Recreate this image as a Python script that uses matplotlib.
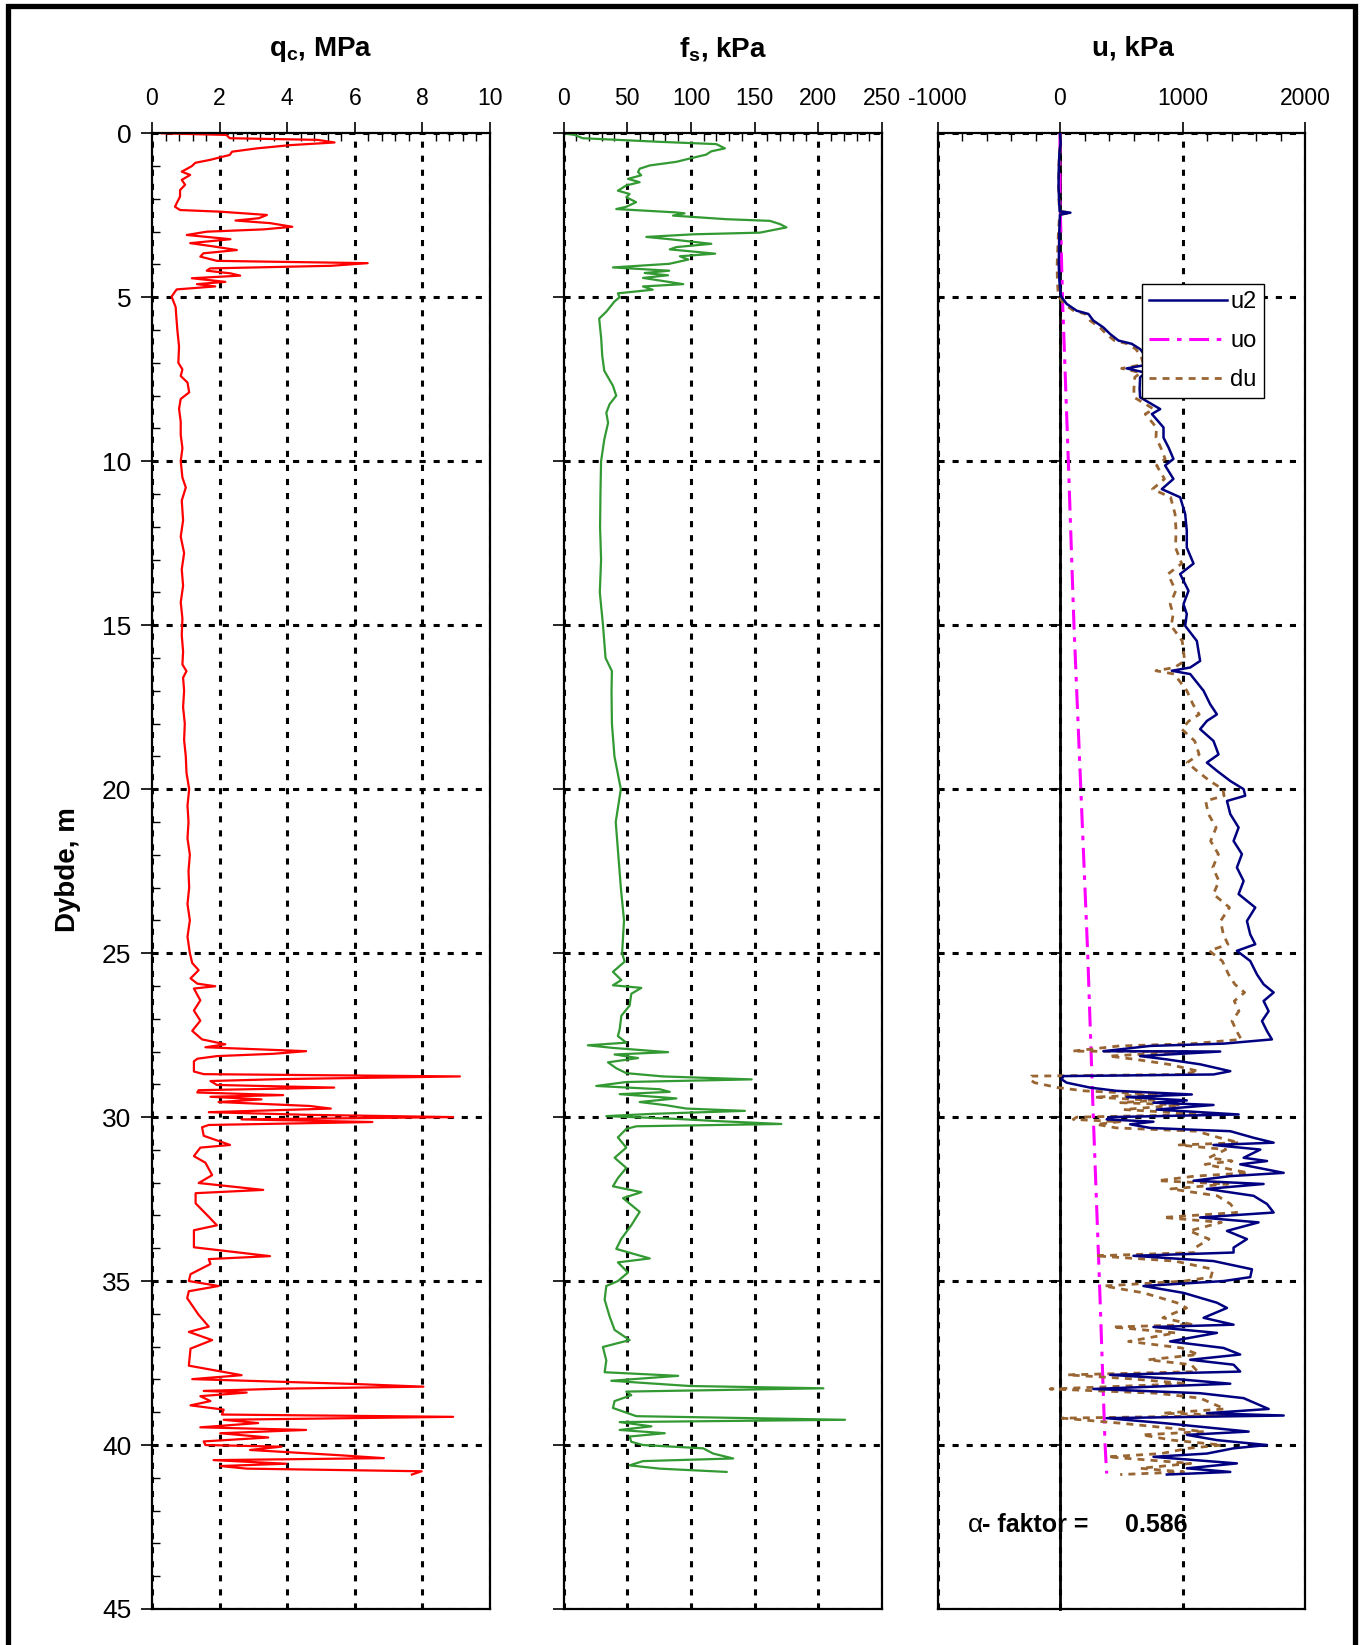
import numpy as np
import matplotlib
matplotlib.use('Agg')
import matplotlib.pyplot as plt
from matplotlib.ticker import MultipleLocator
from matplotlib.patches import Rectangle

plt.rcParams['font.family'] = ['Liberation Sans', 'DejaVu Sans']
plt.rcParams['mathtext.fontset'] = 'custom'
plt.rcParams['mathtext.rm'] = 'Liberation Sans'
plt.rcParams['mathtext.bf'] = 'Liberation Sans:bold'
plt.rcParams['axes.unicode_minus'] = False

# ---- data (read off the CPT log) ----
# cone resistance qc [MPa]
qc_depth = [0.00, 0.05, 0.15, 0.20, 0.28, 0.36, 0.46, 0.56, 0.66, 0.81, 0.90, 1.00, 1.17, 1.27, 1.42,
            1.57, 1.73, 1.93, 2.13, 2.24, 2.34, 2.39, 2.49, 2.59, 2.66, 2.74, 2.85, 2.93, 3.00, 3.10,
            3.23, 3.35, 3.45, 3.56, 3.66, 3.76, 3.89, 3.96, 4.04, 4.12, 4.19, 4.27, 4.34, 4.42, 4.53,
            4.60, 4.67, 4.76, 4.83, 4.98, 5.3, 5.6, 6.0, 6.5, 7.0, 7.2, 7.4, 7.6, 7.9, 8.1, 8.4, 8.8,
            9.2, 9.6, 10.0, 10.5, 10.8, 11.2, 11.8, 12.3, 12.8, 13.3, 13.8, 14.3, 14.8, 15.3, 15.8,
            16.2, 16.4, 16.6, 17.0, 17.5, 18.0, 18.5, 19.0, 19.5, 20.0, 20.5, 21.0, 21.5, 22.0, 22.5,
            23.0, 23.5, 24.0, 24.5, 25.0, 25.3, 25.52, 25.77, 25.93, 26.01, 26.08, 26.44, 26.75,
            27.06, 27.37, 27.63, 27.78, 27.87, 27.99, 28.07, 28.14, 28.22, 28.30, 28.61, 28.69,
            28.76, 28.84, 28.90, 29.02, 29.10, 29.18, 29.25, 29.33, 29.38, 29.46, 29.54, 29.66,
            29.74, 29.85, 29.93, 30.00, 30.07, 30.15, 30.24, 30.31, 30.57, 30.85, 30.93, 31.19,
            31.39, 31.77, 32.01, 32.22, 32.32, 32.63, 33.04, 33.30, 33.45, 33.97, 34.24, 34.33,
            34.48, 34.79, 35.00, 35.15, 35.31, 35.52, 36.03, 36.39, 36.55, 36.80, 37.06, 37.58,
            37.87, 37.99, 38.14, 38.22, 38.28, 38.35, 38.40, 38.51, 38.66, 38.79, 38.92, 39.07,
            39.14, 39.23, 39.33, 39.46, 39.54, 39.64, 39.77, 39.89, 40.00, 40.05, 40.15, 40.31,
            40.40, 40.46, 40.57, 40.64, 40.72, 40.80, 40.90]
qc_val = [0.29, 2.2, 2.3, 4.9, 5.4, 4.1, 3.1, 2.37, 2.3, 1.72, 1.28, 1.18, 0.88, 1.13, 0.88,
          0.98, 0.83, 0.83, 0.73, 0.68, 0.83, 2.02, 3.4, 3.16, 2.47, 3.5, 4.15, 3.3, 1.62, 1.03,
          2.32, 1.13, 1.82, 2.51, 1.52, 1.43, 1.92, 6.38, 5.3, 1.72, 1.62, 2.32, 2.61, 1.18, 2.17,
          1.33, 1.87, 0.73, 0.68, 0.58, 0.70, 0.72, 0.75, 0.80, 0.78, 0.90, 0.85, 1.05, 1.10, 0.85,
          0.80, 0.85, 0.85, 0.90, 0.85, 0.90, 1.00, 0.88, 0.92, 0.85, 0.95, 0.88, 0.92, 0.85, 0.90,
          0.88, 0.92, 0.90, 1.02, 0.92, 0.95, 0.92, 0.97, 0.95, 1.00, 1.02, 1.10, 1.05, 1.08, 1.05,
          1.12, 1.08, 1.10, 1.05, 1.12, 1.05, 1.12, 1.19, 1.38, 1.14, 1.34, 1.87, 1.24, 1.43, 1.24,
          1.43, 1.19, 1.48, 2.17, 1.58, 4.56, 3.58, 1.92, 1.34, 1.24, 1.24, 1.53, 9.11, 3.88, 1.73,
          1.92, 5.39, 1.38, 1.34, 3.88, 1.73, 3.24, 1.97, 4.66, 5.29, 1.68, 4.56, 8.91, 2.65, 6.52,
          1.68, 1.48, 1.53, 2.31, 1.43, 1.24, 1.58, 1.78, 1.38, 3.29, 1.29, 1.29, 1.68, 1.92, 1.24,
          1.24, 3.49, 1.68, 1.73, 1.14, 1.09, 1.97, 1.09, 1.04, 1.38, 1.68, 1.09, 1.78, 1.14, 1.09,
          2.65, 1.19, 6.03, 8.03, 3.88, 1.53, 2.8, 1.43, 1.73, 1.14, 2.12, 2.07, 8.91, 2.12, 3.14,
          1.43, 4.56, 2.02, 3.44, 1.53, 1.58, 3.83, 2.9, 5.54, 6.86, 1.82, 3.97, 2.02, 2.8, 7.98,
          7.69]

# sleeve friction fs [kPa]
fs_depth = [0.00, 0.05, 0.15, 0.26, 0.33, 0.46, 0.55, 0.65, 0.77, 0.87, 0.98, 1.08, 1.18, 1.28,
            1.39, 1.49, 1.59, 1.75, 1.85, 1.95, 2.10, 2.24, 2.31, 2.41, 2.44, 2.51, 2.62, 2.67,
            2.77, 2.87, 3.03, 3.08, 3.16, 3.23, 3.37, 3.47, 3.54, 3.67, 3.75, 3.85, 3.98, 4.09,
            4.19, 4.26, 4.33, 4.41, 4.52, 4.60, 4.67, 4.77, 4.88, 5.00, 5.13, 5.44, 5.65, 6.26,
            6.78, 7.24, 7.70, 8.00, 8.26, 8.52, 8.83, 9.34, 10.0, 11.0, 12.0, 13.0, 14.0, 15.0,
            16.0, 16.4, 17.0, 18.0, 19.0, 20.0, 21.0, 22.0, 23.0, 24.0, 25.0, 25.26, 25.57, 25.82,
            25.98, 26.06, 26.24, 26.60, 26.91, 27.32, 27.53, 27.73, 27.81, 27.89, 28.02, 28.09,
            28.20, 28.33, 28.51, 28.66, 28.76, 28.85, 28.93, 29.05, 29.15, 29.23, 29.30, 29.43,
            29.54, 29.64, 29.74, 29.81, 29.90, 29.97, 30.05, 30.12, 30.21, 30.28, 30.36, 30.62,
            30.93, 31.24, 31.55, 31.86, 32.11, 32.29, 32.47, 32.89, 33.30, 33.71, 34.02, 34.31,
            34.43, 34.74, 35.00, 35.15, 35.57, 36.08, 36.49, 36.80, 37.01, 37.42, 37.78, 37.89,
            38.04, 38.20, 38.27, 38.37, 38.48, 38.66, 38.87, 39.12, 39.23, 39.30, 39.43, 39.54,
            39.64, 39.74, 39.90, 40.00, 40.10, 40.26, 40.41, 40.49, 40.62, 40.72, 40.82]
fs_val = [0, 8.7, 15, 75.5, 120, 126.7, 116, 112, 99, 88.6, 67.7, 59.8, 58.5, 61,
          50.6, 59.8, 49.3, 42.7, 51.9, 49.3, 57, 49.3, 41.4, 87.3, 95, 86, 128, 162,
          170, 175, 154, 102, 65, 83.4, 116, 88.6, 83.4, 119, 91.3, 98, 83, 38.8,
          83, 63.7, 82, 62.4, 80.8, 94, 62.4, 70, 42.7, 44, 40, 33.6, 28, 29.6,
          30.4, 32, 38.8, 41.4, 36.2, 33.6, 35, 32, 29.5, 29, 28.7, 29.5, 28.5, 31,
          33, 38, 37.7, 38, 40, 45, 41, 43, 45, 47.5, 46, 48, 38.8, 45.4,
          38.8, 61.1, 53.2, 51.9, 45.4, 44.1, 42.7, 49.3, 19.1, 38.8, 82.1, 40.1,
          58.5, 34.9, 41.4, 49.3, 78.2, 147.7, 49.3, 25.7, 75.5, 83.4, 44.1, 88.6,
          59.8, 80.8, 96.5, 142.4, 70.3, 33.6, 86, 120, 171, 57.2, 49.3, 42.7,
          49.3, 40.1, 49.3, 42.7, 38.8, 61.1, 46.7, 59.8, 53.2, 45.4, 41.4, 67.7,
          42.7, 50.6, 42.7, 33.6, 32.3, 36.2, 40.1, 51.9, 30.9, 33.6, 32.3, 90,
          37.5, 99.1, 204, 49.3, 53.2, 40.1, 38.8, 57.2, 221, 44.1, 69, 44.1,
          79.5, 51.9, 53.2, 62.4, 109.6, 117.5, 133.2, 62.4, 51.9, 75.5, 128]

# measured pore pressure u2 [kPa]
u2_depth = [0.0, 0.3, 0.6, 1.1, 1.6, 2.0, 2.38, 2.42, 2.48, 3.0, 3.5, 4.0, 4.5, 4.9, 5.0, 5.2,
            5.41, 5.51, 5.71, 5.92, 6.12, 6.32, 6.42, 6.58, 6.8, 7.05, 7.17, 7.3, 7.44, 7.8, 8.05,
            8.41, 8.56, 8.97, 9.28, 9.58, 9.93, 10.13, 10.54, 10.85, 11.1, 11.61, 12.12, 12.63,
            13.12, 13.44, 13.95, 14.36, 14.66, 15.02, 15.48, 16.09, 16.29, 16.39, 16.49, 17.0,
            17.41, 17.72, 17.92, 18.17, 18.53, 18.94, 19.19, 19.44, 19.75, 20.0, 20.2, 20.36,
            20.76, 21.17, 21.58, 21.98, 22.39, 22.8, 23.2, 23.61, 24.02, 24.43, 24.73, 24.93,
            25.24, 25.65, 25.95, 26.2, 26.46, 26.77, 27.07, 27.38, 27.63, 27.76, 27.83, 27.99,
            28.0, 28.14, 28.24, 28.39, 28.6, 28.7, 28.75, 28.85, 28.95, 29.1, 29.2, 29.31, 29.39,
            29.49, 29.56, 29.63, 29.77, 29.92, 30.0, 30.07, 30.14, 30.22, 30.33, 30.43, 30.63,
            30.78, 30.85, 30.99, 31.24, 31.34, 31.44, 31.7, 31.8, 31.94, 32.04, 32.19, 32.4,
            32.65, 32.91, 33.06, 33.21, 33.47, 33.72, 33.98, 34.13, 34.23, 34.39, 34.64, 34.88,
            35.0, 35.15, 35.36, 35.66, 35.82, 36.12, 36.33, 36.4, 36.58, 36.84, 37.04, 37.24,
            37.4, 37.55, 37.76, 37.86, 37.98, 38.13, 38.29, 38.42, 38.57, 38.9, 39.03, 39.1,
            39.18, 39.34, 39.59, 39.69, 39.85, 40.0, 40.1, 40.26, 40.36, 40.56, 40.71, 40.82, 40.9]
u2_val = [0, 5, -5, -10, -12, -8, -3, 85, 0, -6, -8, -10, -5, 5, 14, 54,
          136, 232, 272, 354, 409, 477, 586, 654, 700, 720, 544, 700, 654, 650, 654,
          818, 750, 845, 845, 886, 926, 858, 926, 831, 981, 1022, 1035, 1035,
          1090, 981, 1049, 1008, 1035, 1022, 1117, 1144, 1063, 913, 1063, 1172,
          1226, 1281, 1199, 1144, 1253, 1294, 1199, 1281, 1390, 1499, 1512, 1363,
          1390, 1458, 1417, 1485, 1444, 1499, 1458, 1594, 1526, 1553, 1594, 1444,
          1553, 1608, 1662, 1744, 1662, 1703, 1649, 1690, 1730, 1335, 736, 354,
          1308, 654, 872, 1144, 1390, 1253, 27, 14, 54, 245, 463, 1076, 545,
          1035, 763, 1253, 790, 1458, 409, 381, 763, 572, 736, 1390, 1580,
          1744, 1253, 1635, 1499, 1690, 1471, 1826, 1390, 1090, 1662, 1199, 1580,
          1690, 1744, 1144, 1621, 1363, 1526, 1417, 1417, 600, 1253, 1567, 1553,
          1335, 681, 1008, 1281, 1363, 1172, 1417, 763, 1281, 899, 1335, 1471,
          1063, 1417, 1471, 409, 926, 1390, 272, 1144, 1499, 1703, 1199, 1826,
          381, 872, 1540, 1035, 1281, 1690, 1417, 1199, 763, 1444, 1035, 1390, 872]

# hydrostatic pore pressure uo [kPa]
uo_depth = [0, 2, 5, 10, 15, 20, 25, 30, 35, 40, 40.87]
uo_val = [0, 0, 20, 68, 114, 170, 226, 272, 322, 368, 381]

alpha_text = '0.586'

# excess pore pressure du = u2 - uo
u2_depth_a = np.array(u2_depth)
du_val = np.array(u2_val) - np.interp(u2_depth_a, uo_depth, uo_val)

# ---- figure ----
W, H = 1363, 1645
fig = plt.figure(figsize=(W / 100, H / 100), dpi=100)


def px_axes(x0, x1, y0=133.3, y1=1609):
    return fig.add_axes([x0 / W, 1 - y1 / H, (x1 - x0) / W, (y1 - y0) / H])


ax1 = px_axes(152, 490)
ax2 = px_axes(563.5, 882)
ax3 = px_axes(937.5, 1305)

grid_ls = (0, (2.0, 2.6))

ax1.plot(qc_val, qc_depth, color='#FF0000', lw=1.6)
ax2.plot(fs_val, fs_depth, color='#339933', lw=1.6)
ax3.plot(u2_val, u2_depth, color='#000080', lw=1.8, label='u2', zorder=4)
ax3.plot(uo_val, uo_depth, color='#FF00FF', lw=2.2, ls=(0, (6.5, 2.5, 1.5, 2.5)), label='uo', zorder=3)
ax3.plot(du_val, u2_depth, color='#996633', lw=2.0, ls=(0, (2.5, 2.2)), label='du', zorder=3)

setups = [(ax1, (0, 10), 2, 0.4), (ax2, (0, 250), 50, 10), (ax3, (-1000, 2000), 1000, 200)]
for ax, xl, maj, mnr in setups:
    ax.set_xlim(*xl)
    ax.set_ylim(45, 0)
    ax.xaxis.tick_top()
    ax.xaxis.set_major_locator(MultipleLocator(maj))
    ax.xaxis.set_minor_locator(MultipleLocator(mnr))
    ax.yaxis.set_major_locator(MultipleLocator(5))
    ax.grid(True, which='major', color='k', linestyle=grid_ls, linewidth=2.2)
    ax.tick_params(axis='x', which='major', direction='out', length=8, width=1.2,
                   labelsize=16.5, pad=9)
    ax.tick_params(axis='x', which='minor', direction='in', length=6, width=1)
    ax.tick_params(axis='y', which='major', direction='out', length=8, width=1.2,
                   labelsize=19, pad=7)
    for s in ax.spines.values():
        s.set_linewidth(1.6)

ax1.yaxis.set_minor_locator(MultipleLocator(1))
ax1.tick_params(axis='y', which='minor', direction='in', length=6, width=1)
ax2.tick_params(axis='y', labelleft=False)
ax3.tick_params(axis='y', labelleft=False)

# pore pressure axis: vertical axis drawn at u = 0
ax3.spines['left'].set_position(('data', 0))
ax3.spines['left'].set_linewidth(2.0)
ax3.axvline(-1000, color='k', lw=1.6, zorder=5, clip_on=False)

leg = ax3.legend(loc='upper left', bbox_to_anchor=(0.556, 0.898), fontsize=17,
                 frameon=True, fancybox=False, edgecolor='k', framealpha=1,
                 handlelength=3.3, handletextpad=0.15, labelspacing=0.72,
                 borderpad=0.3, borderaxespad=0)
leg.get_frame().set_linewidth(1.0)

# titles and labels
ty = 1 - 49 / H
fig.text(321 / W, ty, r'$\mathbf{q_c}$, MPa', fontsize=20, fontweight='bold',
         ha='center', va='center')
fig.text(723 / W, ty, r'$\mathbf{f_s}$, kPa', fontsize=20, fontweight='bold',
         ha='center', va='center')
fig.text(1133 / W, ty, 'u, kPa', fontsize=20, fontweight='bold',
         ha='center', va='center')
fig.text(68 / W, 1 - 870 / H, 'Dybde, m', fontsize=20, fontweight='bold',
         rotation=90, ha='center', va='center')

fig.text(968 / W, 1 - 1525 / H, 'α', fontsize=19, ha='left', va='center')
fig.text(982 / W, 1 - 1525 / H, '- faktor =', fontsize=18, fontweight='bold',
         ha='left', va='center')
fig.text(1125 / W, 1 - 1525 / H, alpha_text, fontsize=18, fontweight='bold',
         ha='left', va='center')

# outer frame (bottom edge runs past the image)
fig.add_artist(Rectangle((7.5 / W, 1 - 1670 / H), (1355 - 7.5) / W, (1670 - 6.5) / H,
                         transform=fig.transFigure, fill=False, edgecolor='k', lw=3.8))

fig.savefig('out.png', dpi=100)
